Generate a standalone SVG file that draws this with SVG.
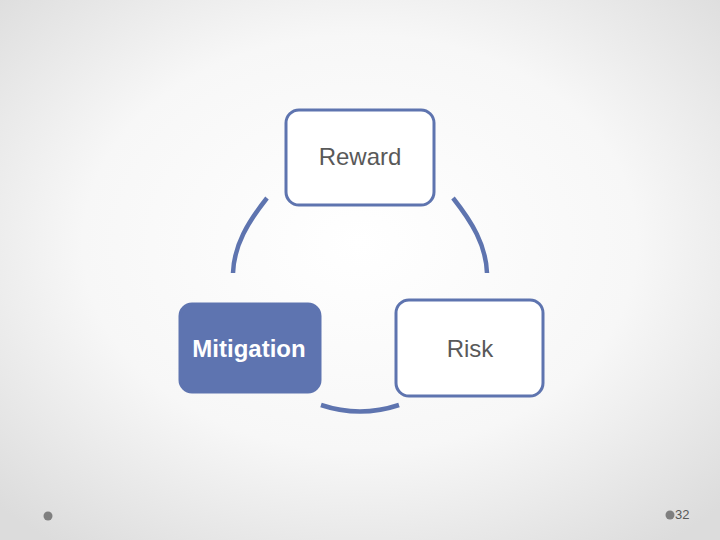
<svg xmlns="http://www.w3.org/2000/svg" width="720" height="540" viewBox="0 0 720 540">
<defs>
<radialGradient id="bg" cx="50%" cy="45%" r="70%">
<stop offset="0" stop-color="#ffffff"/>
<stop offset="0.55" stop-color="#f7f7f7"/>
<stop offset="1" stop-color="#dcdcdc"/>
</radialGradient>
<style>
.box{fill:#ffffff;stroke:#5e74af;stroke-width:3}
.fbox{fill:#5e74b0;stroke:#5e74b0;stroke-width:3}
.lbl{font-family:"Liberation Sans",Arial,sans-serif;font-size:24px;fill:#595959;text-anchor:middle}
.wlbl{font-family:"Liberation Sans",Arial,sans-serif;font-size:24px;font-weight:bold;fill:#ffffff;text-anchor:middle}
.arc{fill:none;stroke:#5e74af;stroke-width:4.5}
</style>
</defs>
<rect width="720" height="540" fill="url(#bg)"/>
<g id="connectors">
<path class="arc" d="M267,198 C248,222 234,245 233,273"/>
<path class="arc" d="M453,198 C472,222 486,245 487,273"/>
<path class="arc" d="M321,405 Q360,418 399,405"/>
</g>
<g id="reward">
<rect class="box" x="286" y="110" width="148" height="95" rx="13"/>
<text class="lbl" x="360" y="165">Reward</text>
</g>
<g id="mitigation">
<rect class="fbox" x="180" y="304" width="140" height="88" rx="12"/>
<text class="wlbl" x="249" y="357">Mitigation</text>
</g>
<g id="risk">
<rect class="box" x="396" y="300" width="147" height="96" rx="13"/>
<text class="lbl" x="470" y="357">Risk</text>
</g>
<g id="footer">
<circle cx="48" cy="516" r="4.5" fill="#7f7f7f"/>
<circle cx="670" cy="515" r="4.5" fill="#7f7f7f"/>
<text x="675" y="519" font-family="Liberation Sans,Arial,sans-serif" font-size="13" fill="#595959">32</text>
</g>
</svg>
